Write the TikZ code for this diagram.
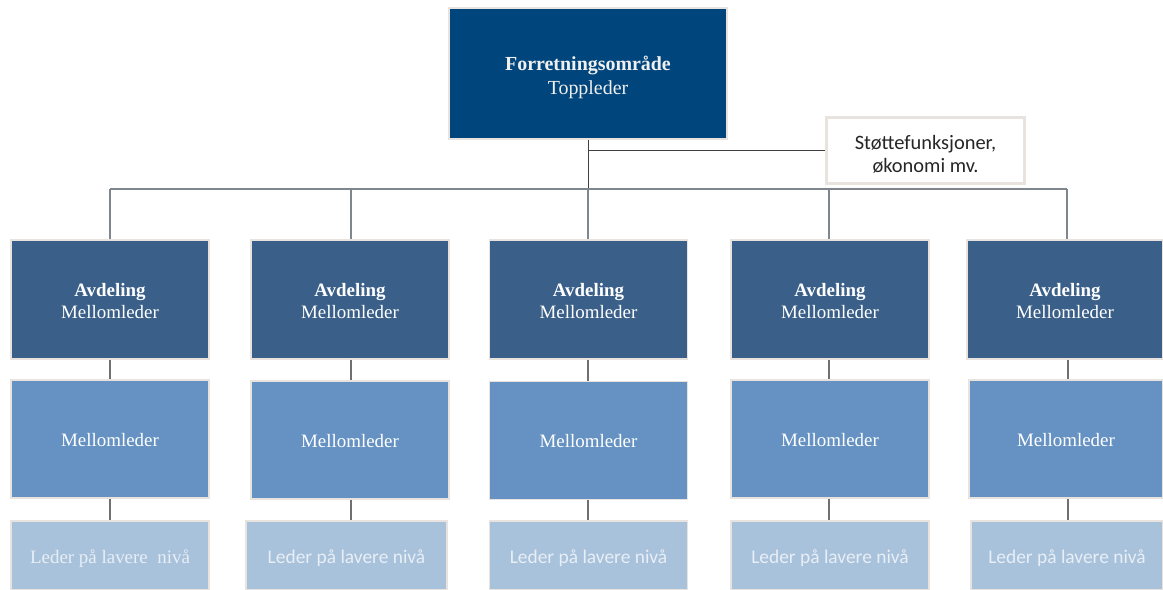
\documentclass[tikz,border=0pt]{standalone}
\usepackage{fontspec}
\setmainfont{Liberation Serif}
\newfontfamily\carlito{Carlito}
\definecolor{topc}{RGB}{0,69,124}
\definecolor{deptc}{RGB}{58,95,136}
\definecolor{midc}{RGB}{101,146,194}
\definecolor{lowc}{RGB}{169,194,220}
\definecolor{edgec}{RGB}{232,227,222}
\definecolor{lowtxt}{RGB}{232,238,245}
\definecolor{busc}{RGB}{128,134,142}
\definecolor{dropc}{RGB}{110,112,116}
\begin{document}
\begin{tikzpicture}[x=1bp,y=-1bp,
  box/.style={draw=edgec,line width=1.2bp,inner sep=0pt},
  lbl/.style={inner sep=0pt,align=center,font=\fontsize{19}{22}\selectfont},
  topbox/.style={box,fill=topc,minimum width=278bp,minimum height=131bp},
  toplbl/.style={lbl,text=white!94!black,font=\fontsize{20}{24}\selectfont,yshift=-3.5bp},
  suppbox/.style={box,fill=white,draw=edgec,line width=2.5bp,minimum width=198bp,minimum height=66bp},
  supplbl/.style={lbl,text=black!85,font=\carlito\fontsize{20.5}{23}\selectfont,yshift=-3.5bp},
  deptbox/.style={box,fill=deptc,minimum width=198bp,minimum height=119bp},
  deptlbl/.style={lbl,text=white,yshift=-1.5bp},
  midbox/.style={box,fill=midc,minimum width=198bp,minimum height=118bp},
  midlbl/.style={lbl,text=white,yshift=-1bp},
  lowbox/.style={box,fill=lowc,minimum width=198bp,minimum height=69bp},
  lowlbl/.style={lbl,text=lowtxt,font=\carlito\fontsize{19.5}{22}\selectfont,yshift=-3bp},
  conn/.style={draw=black!75,line width=1bp},
  bus/.style={draw=busc,line width=2bp},
  drop/.style={draw=dropc,line width=1.4bp}]
\useasboundingbox[fill=white] (0,0) rectangle (1163,590);

\node[topbox,label={[toplbl]center:{\textbf{Forretningsområde}\\Toppleder}}] (top) at (588,73.5) {};
\node[suppbox,label={[supplbl]center:{Støttefunksjoner,\\økonomi mv.}}] (supp) at (925.5,150.5) {};

\node[deptbox,label={[deptlbl]center:{\textbf{Avdeling}\\Mellomleder}}] (d1) at (110,299.5) {};
\node[deptbox,label={[deptlbl]center:{\textbf{Avdeling}\\Mellomleder}}] (d2) at (350,299.5) {};
\node[deptbox,label={[deptlbl]center:{\textbf{Avdeling}\\Mellomleder}}] (d3) at (588.5,299.5) {};
\node[deptbox,label={[deptlbl]center:{\textbf{Avdeling}\\Mellomleder}}] (d4) at (830,299.5) {};
\node[deptbox,minimum width=196bp,label={[deptlbl]center:{\textbf{Avdeling}\\Mellomleder}}] (d5) at (1065,299.5) {};

\node[midbox,label={[midlbl]center:Mellomleder}] (m1) at (110,439) {};
\node[midbox,label={[midlbl]center:Mellomleder}] (m2) at (350,440) {};
\node[midbox,label={[midlbl]center:Mellomleder}] (m3) at (588.5,440.5) {};
\node[midbox,label={[midlbl]center:Mellomleder}] (m4) at (830,439) {};
\node[midbox,minimum width=194bp,label={[midlbl]center:Mellomleder}] (m5) at (1066,439) {};

\node[lowbox,label={[lowlbl,font=\fontsize{19}{22}\selectfont]center:{Leder på lavere\ \ nivå}}] (l1) at (110,555.5) {};
\node[lowbox,minimum width=201bp,label={[lowlbl]center:{Leder på lavere nivå}}] (l2) at (346.5,555.5) {};
\node[lowbox,label={[lowlbl]center:{Leder på lavere nivå}}] (l3) at (588.5,555.5) {};
\node[lowbox,label={[lowlbl]center:{Leder på lavere nivå}}] (l4) at (830,555.5) {};
\node[lowbox,minimum width=192bp,label={[lowlbl]center:{Leder på lavere nivå}}] (l5) at (1067,555.5) {};

% trunk and support line
\coordinate (b3) at (588,189);
\coordinate (supj) at (588,151);
\draw[conn] (top.south) -- (b3);
\draw[conn] (supj) -- (supj -| supp.west);

% bus
\coordinate (b1) at (110,189);
\coordinate (b2) at (351,189);
\coordinate (b4) at (829,189);
\coordinate (b5) at (1067,189);
\draw[bus] (b1) -- (b5);
\foreach \i in {1,...,5}{
  \draw[bus] (b\i) -- (b\i |- d\i.north);
}

% column drops
\foreach \i/\x in {1/110,2/351,3/588,4/829,5/1068}{
  \coordinate (c\i) at (\x,0);
  \draw[drop] (c\i |- d\i.south) -- (c\i |- m\i.north);
  \draw[drop] (c\i |- m\i.south) -- (c\i |- l\i.north);
}
\end{tikzpicture}
\end{document}
